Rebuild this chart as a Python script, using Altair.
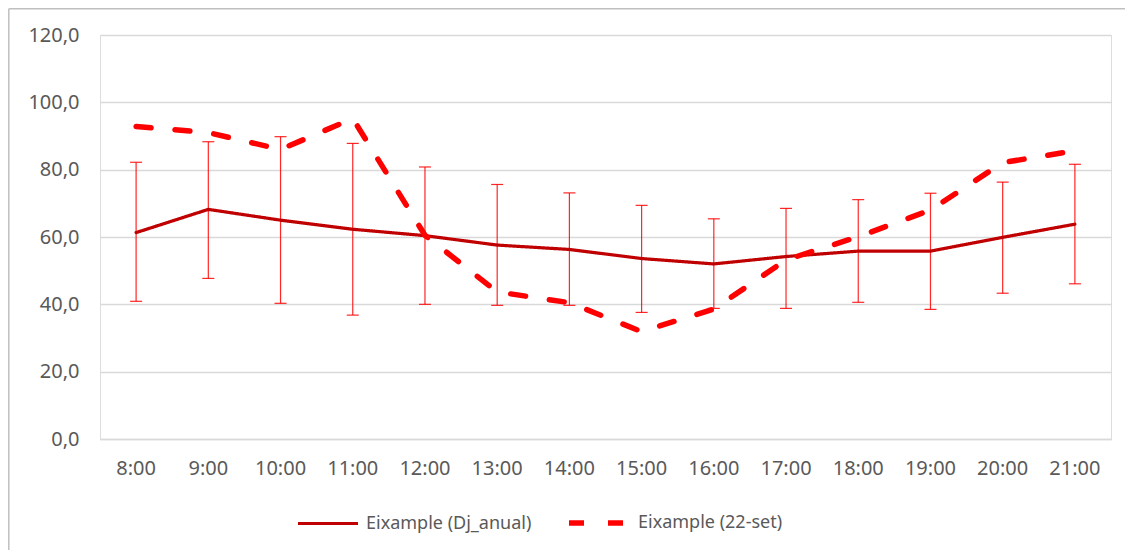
import altair as alt
import pandas as pd

hours = ["8:00", "9:00", "10:00", "11:00", "12:00", "13:00", "14:00",
         "15:00", "16:00", "17:00", "18:00", "19:00", "20:00", "21:00"]
anual = [61.3, 68.2, 65.0, 62.3, 60.4, 57.6, 56.3, 53.6, 52.0, 54.2, 55.8, 55.8, 59.9, 63.8]
setembre = [92.8, 91.0, 86.0, 95.2, 60.5, 43.7, 40.5, 31.9, 38.6, 53.2, 60.1, 68.0, 82.1, 85.6]
err_hi = [82.2, 88.3, 89.8, 87.8, 80.8, 75.6, 73.1, 69.4, 65.4, 68.5, 71.1, 73.0, 76.3, 81.6]
err_lo = [40.9, 47.7, 40.3, 36.8, 40.0, 39.7, 39.7, 37.6, 38.8, 38.8, 40.6, 38.5, 43.3, 46.1]

series_names = ["Eixample (Dj_anual)", "Eixample (22-set)"]
series_colors = ["#C00000", "#FF0000"]

lines = pd.DataFrame({
    "hora": hours * 2,
    "valor": anual + setembre,
    "serie": [series_names[0]] * len(hours) + [series_names[1]] * len(hours),
})
errs = pd.DataFrame({"hora": hours, "hi": err_hi, "lo": err_lo})

W, H = 1011, 404
FONT = "Noto Sans"

xenc = alt.X("hora:N", sort=hours, title=None,
             scale=alt.Scale(type="band", paddingInner=0, paddingOuter=0),
             axis=alt.Axis(labelAngle=0, ticks=False, domainColor="#D9D9D9",
                           domainWidth=1.5, labelColor="#595959", labelFontSize=20,
                           labelFont=FONT, labelPadding=19, grid=False))
yscale = alt.Scale(domain=[0, 120], nice=False)

rules = alt.Chart(errs).mark_rule(color="#FF0000", strokeWidth=1.2, opacity=0.85).encode(
    x=xenc,
    y=alt.Y("lo:Q", scale=yscale, title=None,
            axis=alt.Axis(values=[0, 20, 40, 60, 80, 100, 120], domain=False, ticks=False,
                          gridColor="#D9D9D9", gridWidth=1.5, labelColor="#595959",
                          labelFontSize=20, labelFont=FONT, labelPadding=21,
                          labelExpr="replace(format(datum.value, '.1f'), '.', ',')")),
    y2="hi:Q",
)
caps_hi = alt.Chart(errs).mark_tick(color="#FF0000", size=12, thickness=1.2, opacity=0.85,
                                    orient="horizontal").encode(x=alt.X("hora:N", sort=hours),
                                                                y=alt.Y("hi:Q", scale=yscale))
caps_lo = alt.Chart(errs).mark_tick(color="#FF0000", size=12, thickness=1.2, opacity=0.85,
                                    orient="horizontal").encode(x=alt.X("hora:N", sort=hours),
                                                                y=alt.Y("lo:Q", scale=yscale))

line = alt.Chart(lines).mark_line(strokeCap="round", strokeJoin="round").encode(
    x=alt.X("hora:N", sort=hours),
    y=alt.Y("valor:Q", scale=yscale),
    color=alt.Color("serie:N", sort=series_names, title=None,
                    scale=alt.Scale(domain=series_names, range=series_colors),
                    legend=alt.Legend(orient="none", legendX=196, legendY=455,
                                      direction="horizontal", symbolType="stroke",
                                      symbolSize=3600, labelFontSize=18, labelFont=FONT,
                                      labelColor="#595959", labelOffset=6,
                                      columnPadding=26, labelLimit=400)),
    strokeDash=alt.StrokeDash("serie:N", sort=series_names, title=None,
                              scale=alt.Scale(domain=series_names, range=[[1, 0], [15, 24]])),
    strokeWidth=alt.StrokeWidth("serie:N", sort=series_names, title=None,
                                scale=alt.Scale(domain=series_names, range=[3.2, 5.5])),
)

frame = pd.DataFrame({"k": [0]})
border_left = alt.Chart(frame).mark_rule(color="#BFBFBF", strokeWidth=1.5).encode(
    x=alt.value(-91.2), y=alt.value(-26.2), y2=alt.value(H + 111))
border_top = alt.Chart(frame).mark_rule(color="#BFBFBF", strokeWidth=1.5).encode(
    x=alt.value(-91.2), x2=alt.value(W + 14), y=alt.value(-26.2))

chart = alt.layer(border_left, border_top, rules, caps_hi, caps_lo, line).properties(
    width=W, height=H,
    autosize=alt.AutoSizeParams(type="none"),
    padding={"left": 92, "top": 27, "right": 14, "bottom": 111},
).configure_view(stroke=None).configure(font=FONT)

chart.save("out.html", embed_options={"renderer": "svg", "actions": False})
